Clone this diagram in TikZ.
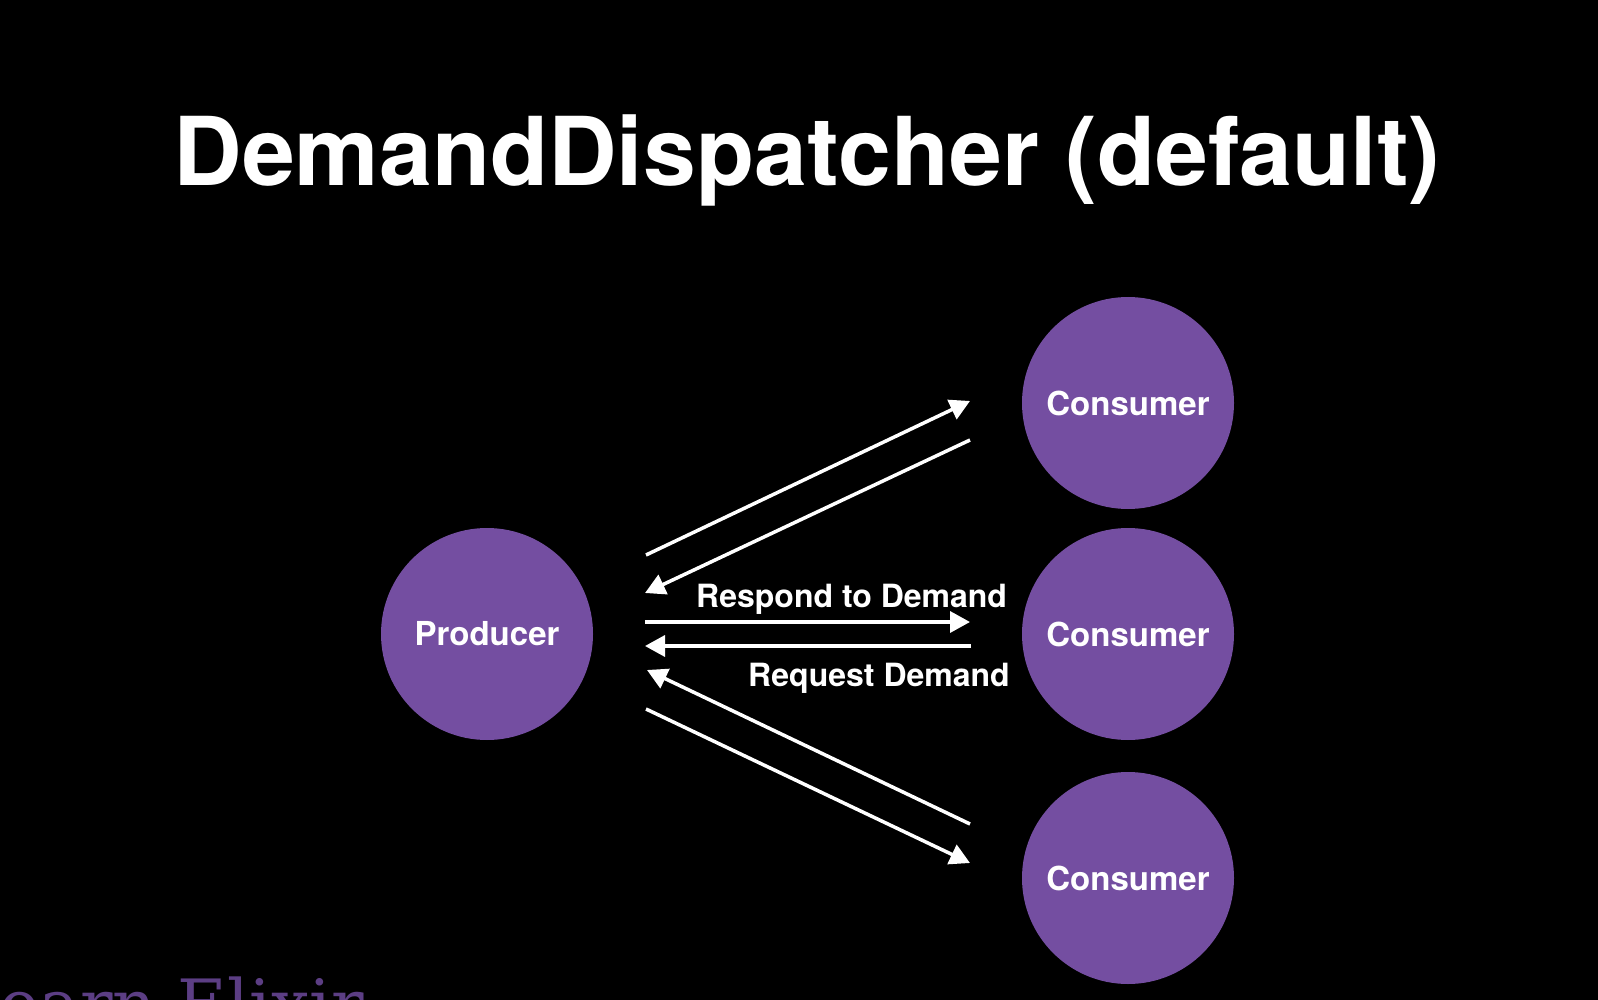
\documentclass[tikz,border=0pt]{standalone}
\usepackage{fontspec}
\setmainfont{TeX Gyre Heros}
\newfontfamily\brandserif{DejaVu Serif}
\usetikzlibrary{arrows.meta}
\definecolor{elixir}{RGB}{116,78,161}
\definecolor{dimpurple}{RGB}{92,62,132}
\begin{document}
\begin{tikzpicture}[x=1pt,y=-1pt,
  stage/.style={circle, fill=elixir, minimum size=212pt, inner sep=0pt,
    text=white, font=\fontsize{33}{33}\selectfont\bfseries},
  flow/.style={draw=white, line width=3.5pt,
    -{Triangle[length=20pt,width=21pt]}},
  lbl/.style={text=white, inner sep=0pt,
    font=\fontsize{32}{32}\selectfont\bfseries}]
\clip (0,0) rectangle (1598,1000);
\fill[black] (0,0) rectangle (1598,1000);

% heading
\node[text=white, inner sep=0pt, anchor=base,
  font=\fontsize{95}{95}\selectfont\bfseries] (title) at (807,186)
  {DemandDispatcher (default)};

% stages
\node[stage] (prod) at (487,634) {Producer};
\node[stage] (c1) at (1128,403) {Consumer};
\node[stage] (c2) at (1128,634) {Consumer};
\node[stage] (c3) at (1128,878) {Consumer};

% end points of the message lines
\coordinate (a1) at (646,555);
\coordinate (b1) at (970,401);
\coordinate (a2) at (970,440);
\coordinate (b2) at (645,593);
\coordinate (a3) at (645,622);
\coordinate (b3) at (970,622);
\coordinate (a4) at (971,646);
\coordinate (b4) at (645,646);
\coordinate (a5) at (970,824);
\coordinate (b5) at (647,670);
\coordinate (a6) at (646,709);
\coordinate (b6) at (970,863);

\draw[flow] (a1) -- (b1);
\draw[flow] (a2) -- (b2);
\draw[flow] (a3) -- (b3);
\draw[flow] (a4) -- (b4);
\draw[flow] (a5) -- (b5);
\draw[flow] (a6) -- (b6);

\node[lbl, anchor=base west] (respond) at (696,607) {Respond to Demand};
\node[lbl, anchor=base west] (request) at (748,686) {Request Demand};

% footer brand text, running off the lower edge
\node[text=dimpurple, inner sep=0pt, anchor=base east,
  font=\brandserif\fontsize{68}{68}\selectfont] (brand) at (364,1028)
  {Learn Elixir};
\end{tikzpicture}
\end{document}
